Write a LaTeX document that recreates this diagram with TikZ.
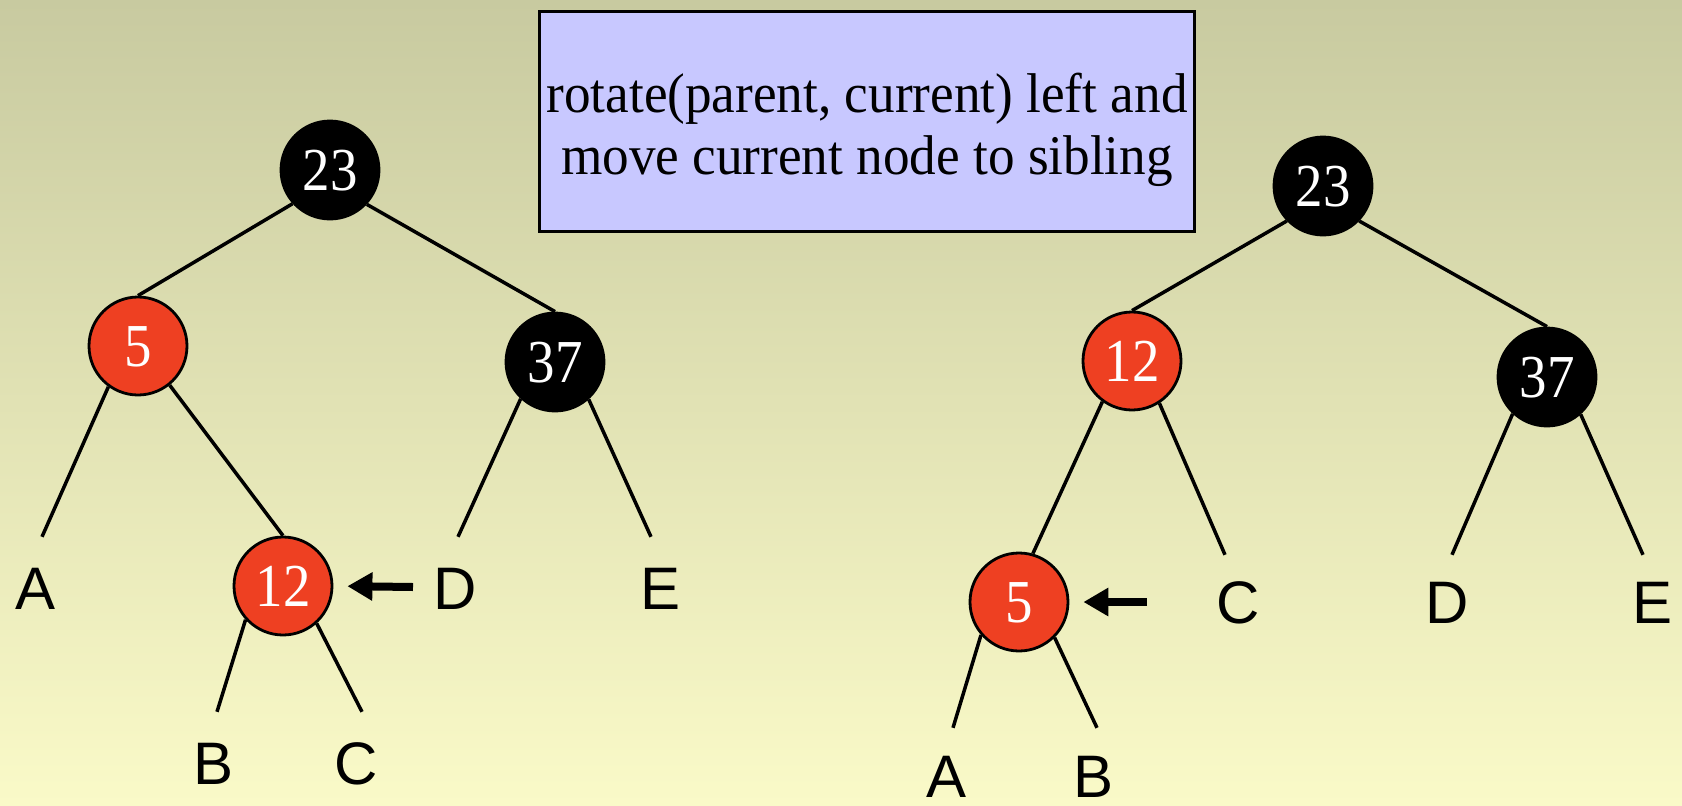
\documentclass[tikz,border=0pt]{standalone}
\usepackage{fontspec}
\setmainfont{Liberation Serif}
\newfontfamily\numfont[FakeStretch=0.9]{Liberation Serif}
\newfontfamily\notefont[FakeStretch=0.95]{Liberation Serif}
\newfontfamily\leaffont{Liberation Sans}
\usetikzlibrary{arrows.meta}
\definecolor{bgtop}{RGB}{200,202,160}
\definecolor{bgmid}{RGB}{230,230,180}
\definecolor{bgbot}{RGB}{250,250,200}
\definecolor{nodered}{RGB}{238,64,34}
\definecolor{notefill}{RGB}{200,200,255}
\begin{document}
\begin{tikzpicture}[x=1pt,y=-1pt,
  rbnode/.style={circle, draw=black, line width=2.8pt, minimum size=98pt, inner sep=0pt,
    text=white, font=\numfont\fontsize{61}{61}\selectfont, text height=41pt, text depth=0pt},
  rednode/.style={rbnode, fill=nodered},
  blacknode/.style={rbnode, fill=black},
  leaf/.style={inner sep=0pt, font=\leaffont\fontsize{60}{60}\selectfont,
    text height=43pt, text depth=0pt},
  edge/.style={line width=3.5pt},
  pointer/.style={line width=8pt, -{Triangle[length=25pt,width=27pt]}, shorten >=14pt},
  notebox/.style={draw=black, line width=3pt, fill=notefill, minimum width=655pt,
    minimum height=220pt, inner sep=0pt},
  notetext/.style={align=center, inner sep=0pt, font=\notefont\fontsize{56}{62}\selectfont}
]
\useasboundingbox (0,0) rectangle (1682,806);
\shade[top color=bgtop, middle color=bgmid, bottom color=bgbot] (0,0) rectangle (1682,806);

% note box
\node[notebox] (note) at (867,121.5) {};
\node[notetext] (notetext) at (867,129.6) {rotate(parent, current) left and\\move current node to sibling};

% left tree
\node[blacknode] (L23) at (330,170) {23};
\node[rednode] (L5) at (138,346) {5};
\node[blacknode] (L37) at (555,362) {37};
\node[rednode] (L12) at (283,586) {12};
\node[leaf] (LA) at (36,588) {A};
\node[leaf] (LD) at (455,588) {D};
\node[leaf] (LE) at (661,588) {E};
\node[leaf] (LB) at (214,763) {B};
\node[leaf] (LC) at (356,763) {C};

\draw[edge] (L23.222.6) -- (L5.north);
\draw[edge] (L23.317.4) -- (L37.north);
\draw[edge] (L5.234) -- ([xshift=6pt,yshift=29.5pt]LA.north);
\draw[edge] (L5.309.7) -- (L12.north);
\draw[edge] (L37.227.4) -- ([xshift=3pt,yshift=29.5pt]LD.north);
\draw[edge] (L37.312.6) -- ([xshift=-10pt,yshift=29.5pt]LE.north);
\draw[edge] (L12.222.6) -- ([xshift=3pt,yshift=29.5pt]LB.north);
\draw[edge] (L12.312) -- ([xshift=6pt,yshift=29.5pt]LC.north);

\coordinate (Ltail) at (413,587);
\draw[pointer] (Ltail) -- (L12.east);

% right tree
\node[blacknode] (R23) at (1323,186) {23};
\node[rednode] (R12) at (1132,361) {12};
\node[blacknode] (R37) at (1547,377) {37};
\node[rednode] (R5) at (1019,602) {5};
\node[leaf] (RC) at (1238,602) {C};
\node[leaf] (RD) at (1447,602) {D};
\node[leaf] (RE) at (1652,602) {E};
\node[leaf] (RA) at (946,776) {A};
\node[leaf] (RB) at (1093,776) {B};

\draw[edge] (R23.224) -- (R12.north);
\draw[edge] (R23.316) -- (R37.north);
\draw[edge] (R12.234) -- (R5.74);
\draw[edge] (R12.303) -- ([xshift=-13pt,yshift=25.5pt]RC.north);
\draw[edge] (R37.227.4) -- ([xshift=5pt,yshift=25.5pt]RD.north);
\draw[edge] (R37.312.6) -- ([xshift=-9pt,yshift=25.5pt]RE.north);
\draw[edge] (R5.221.8) -- ([xshift=7pt,yshift=26.5pt]RA.north);
\draw[edge] (R5.315.8) -- ([xshift=4pt,yshift=26.5pt]RB.north);

\coordinate (Rtail) at (1147,602);
\draw[pointer] (Rtail) -- (R5.east);
\end{tikzpicture}
\end{document}
